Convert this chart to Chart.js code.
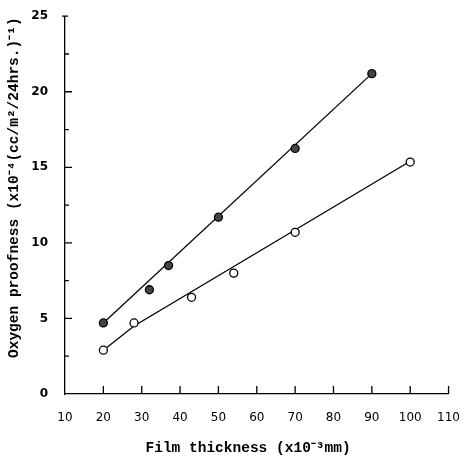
<!DOCTYPE html>
<html>
<head>
<meta charset="utf-8">
<script src="https://cdn.jsdelivr.net/npm/chart.js@4"></script>
<style>
  html, body { margin: 0; padding: 0; background: #fff; }
  #wrap { width: 469px; height: 457px; }
</style>
</head>
<body>
<div id="wrap"><canvas id="c" width="469" height="457"></canvas></div>
<script>
// ---- data ----
const xTickValues = [10, 20, 30, 40, 50, 60, 70, 80, 90, 100, 110];
const yTickValues = [0, 5, 10, 15, 20, 25];
const yMinorTicks = [2.5, 7.5, 12.5, 17.5, 22.5];

const upperX = [20, 32, 37, 50, 70, 90];
const upperY = [4.7, 6.9, 8.5, 11.7, 16.25, 21.2];

const lowerX = [20, 28, 43, 54, 70, 100];
const lowerY = [2.9, 4.7, 6.4, 8.0, 10.7, 15.35];

// hand-drawn lines through the points
const upperLineX = [20, 90];
const upperLineY = [4.7, 21.2];
const lowerLineX = [20, 28, 100];
const lowerLineY = [2.9, 4.5, 15.4];

const xTitle = 'Film thickness (x10\u207B\u00B3mm)\u00A0\u00A0';
const yTitle = '\u00A0\u00A0\u00A0\u00A0Oxygen proofness (x10\u207B\u2074(cc/m\u00B2/24hrs.)\u207B\u00B9)';

const pts = (xs, ys) => xs.map((x, i) => ({ x, y: ys[i] }));

const inwardTicks = {
  id: 'inwardTicks',
  afterDraw(chart) {
    const ctx = chart.ctx;
    const xs = chart.scales.x, ys = chart.scales.y;
    const x0 = xs.getPixelForValue(10);
    const y0 = ys.getPixelForValue(0);
    ctx.save();
    ctx.strokeStyle = '#000';
    ctx.lineWidth = 1.3;
    ctx.beginPath();
    xTickValues.forEach(v => {
      if (v === 10) return;
      const px = xs.getPixelForValue(v);
      ctx.moveTo(px, y0);
      ctx.lineTo(px, y0 - 8);
    });
    yTickValues.forEach(v => {
      if (v === 0) return;
      const py = ys.getPixelForValue(v);
      if (v === 25) {
        ctx.moveTo(x0 - 3, py);
        ctx.lineTo(x0 + 3, py);
      } else {
        ctx.moveTo(x0 - 1, py);
        ctx.lineTo(x0 + 7, py);
      }
    });
    yMinorTicks.forEach(v => {
      const py = ys.getPixelForValue(v);
      ctx.moveTo(x0, py);
      ctx.lineTo(x0 + 4, py);
    });
    ctx.stroke();
    ctx.restore();
  }
};

new Chart(document.getElementById('c'), {
  type: 'scatter',
  data: {
    datasets: [
      {
        data: pts(upperLineX, upperLineY),
        showLine: true, borderColor: '#000', borderWidth: 1.3,
        pointRadius: 0, fill: false, order: 3
      },
      {
        data: pts(lowerLineX, lowerLineY),
        showLine: true, borderColor: '#000', borderWidth: 1.3,
        pointRadius: 0, fill: false, order: 4
      },
      {
        data: pts(upperX, upperY),
        pointRadius: 4, pointBackgroundColor: '#444', pointBorderColor: '#000',
        pointBorderWidth: 1.3, order: 1
      },
      {
        data: pts(lowerX, lowerY),
        pointRadius: 4, pointBackgroundColor: '#fff', pointBorderColor: '#000',
        pointBorderWidth: 1.3, order: 2
      }
    ]
  },
  options: {
    responsive: false,
    animation: false,
    events: [],
    layout: { padding: { top: 15, right: 16, left: 6, bottom: 0 } },
    plugins: { legend: { display: false }, tooltip: { enabled: false } },
    scales: {
      x: {
        type: 'linear', min: 10, max: 110,
        afterBuildTicks: s => { s.ticks = xTickValues.map(v => ({ value: v })); },
        afterFit: s => { s.height = 63; },
        grid: { display: false },
        border: { display: true, color: '#000', width: 1.3 },
        ticks: {
          color: '#000', padding: 9,
          font: { family: 'DejaVu Sans', size: 12 }
        },
        title: {
          display: true, text: xTitle, color: '#000',
          font: { family: 'Liberation Mono', size: 14.5, weight: 'bold' },
          padding: { top: 14, bottom: 0 }
        }
      },
      y: {
        type: 'linear', min: 0, max: 25,
        afterBuildTicks: s => { s.ticks = yTickValues.map(v => ({ value: v })); },
        afterFit: s => { s.width = 59; },
        grid: { display: false },
        border: { display: true, color: '#000', width: 1.3 },
        ticks: {
          color: '#000', padding: 9,
          font: { family: 'DejaVu Sans', size: 12, weight: 'bold' }
        },
        title: {
          display: true, text: yTitle, color: '#000',
          font: { family: 'Liberation Mono', size: 14.5, weight: 'bold' },
          padding: { top: 0, bottom: 0 }
        }
      }
    }
  },
  plugins: [inwardTicks]
});
</script>
</body>
</html>
